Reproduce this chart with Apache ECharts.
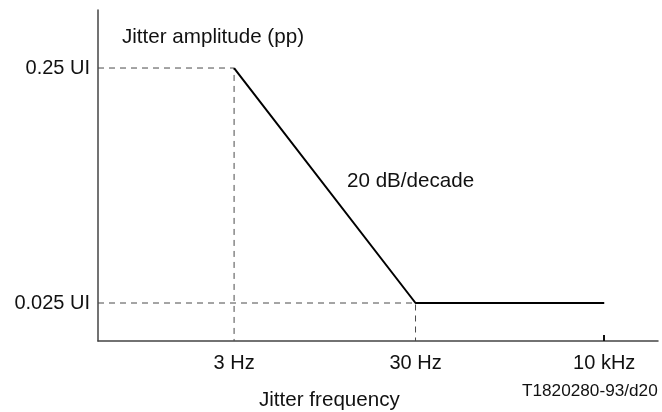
<!DOCTYPE html>
<html>
<head>
<meta charset="utf-8">
<script src="https://cdn.jsdelivr.net/npm/echarts@6/dist/echarts.min.js"></script>
<style>
  html, body { margin: 0; padding: 0; background: #fff; }
  #main { width: 662px; height: 412px; }
</style>
</head>
<body>
<div id="main"></div>
<script>
// schematic frequency positions along the x axis (not to scale)
var freqLabels = ['3 Hz', '30 Hz', '10 kHz']
var freqPos = [24.3, 56.7, 90.4]
// jitter amplitude (UI pp) at each corner
var amplitude = [0.25, 0.025, 0.025]
var ampLabels = ['0.25 UI', '0.025 UI']
var ampTicks = [0.25, 0.025]

var yMin = 0.01723
var yMax = 0.4414

var myChart = echarts.init(document.getElementById('main'))

var mask = []
for (var i = 0; i < freqPos.length; i++) {
  mask.push([freqPos[i], amplitude[i]])
}

// dashed guide lines: from y axis to corner, then down to x axis
var guide1 = [[0, amplitude[0]], [freqPos[0], amplitude[0]], [freqPos[0], yMin]]
var guide2 = [[0, amplitude[1]], [freqPos[1], amplitude[1]], [freqPos[1], yMin]]

var font = 'Liberation Sans, Arial, sans-serif'
var guideStyle = { color: '#4a4a4a', width: 1, type: [6, 5] }

var option = {
  animation: false,
  backgroundColor: '#fff',
  textStyle: { fontFamily: font },
  title: [
    { text: 'Jitter amplitude (pp)', left: 122, top: 27, padding: 0,
      textStyle: { fontSize: 20.6, fontWeight: 'normal', color: '#111', fontFamily: font } },
    { text: '20 dB/decade', left: 347, top: 171, padding: 0,
      textStyle: { fontSize: 20.6, fontWeight: 'normal', color: '#111', fontFamily: font } },
    { text: 'Jitter frequency', left: 259, top: 390, padding: 0,
      textStyle: { fontSize: 20.6, fontWeight: 'normal', color: '#111', fontFamily: font } },
    { text: 'T1820280-93/d20', left: 522, top: 383, padding: 0,
      textStyle: { fontSize: 17.2, fontWeight: 'normal', color: '#111', fontFamily: font } }
  ],
  grid: { left: 98, right: 4, top: 10, bottom: 71 },
  xAxis: {
    type: 'value',
    min: 0,
    max: 100,
    splitLine: { show: false },
    axisLine: { lineStyle: { color: '#444', width: 1.5 } },
    axisTick: { show: true, inside: true, length: 6, customValues: [freqPos[2]],
      lineStyle: { color: '#111', width: 2 } },
    axisLabel: {
      customValues: freqPos,
      fontSize: 20, color: '#111', margin: 12,
      formatter: function (v) {
        var idx = freqPos.indexOf(v)
        return idx >= 0 ? freqLabels[idx] : ''
      }
    }
  },
  yAxis: {
    type: 'log',
    min: yMin,
    max: yMax,
    splitLine: { show: false },
    axisLine: { show: true, lineStyle: { color: '#444', width: 1.5 } },
    axisTick: { show: false },
    axisLabel: {
      customValues: ampTicks,
      fontSize: 20, color: '#111', margin: 8,
      formatter: function (v) {
        var idx = -1
        for (var k = 0; k < ampTicks.length; k++) {
          if (Math.abs(ampTicks[k] - v) < 1e-6) idx = k
        }
        return idx >= 0 ? ampLabels[idx] : ''
      }
    }
  },
  series: [
    {
      type: 'line',
      data: guide1,
      symbol: 'none',
      lineStyle: guideStyle,
      z: 1
    },
    {
      type: 'line',
      data: guide2,
      symbol: 'none',
      lineStyle: guideStyle,
      z: 1
    },
    {
      name: 'mask',
      type: 'line',
      data: mask,
      symbol: 'none',
      lineStyle: { color: '#000', width: 2 },
      z: 3
    }
  ]
}

myChart.setOption(option)
</script>
</body>
</html>
